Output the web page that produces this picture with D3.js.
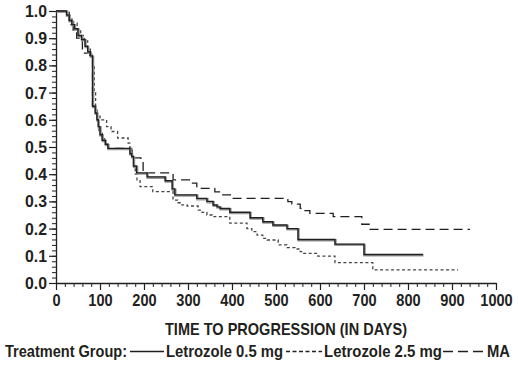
<!DOCTYPE html>
<html><head><meta charset="utf-8">
<script src="https://cdn.jsdelivr.net/npm/d3@7"></script>
<style>
body{margin:0;background:#fff;}
text{font-family:"Liberation Sans Narrow","Liberation Sans",Arial,sans-serif;font-weight:bold;fill:#231f20;}
</style></head><body>
<svg id="c" width="518" height="367"></svg>
<script>
// ---- data ----
const xTicks = [0,100,200,300,400,500,600,700,800,900,1000];
const yTicks = [0,0.1,0.2,0.3,0.4,0.5,0.6,0.7,0.8,0.9,1.0];
const seriesNames = ["Letrozole 0.5 mg","Letrozole 2.5 mg","MA"];
const let05Days = [0,24,30,36,42,50,58,66,72,78,83,89,93,96,100,105,112,118,168,172,176,183,207,248,264,270,320,343,357,366,373,395,441,470,493,525,550,634,700,834];
const let05Surv = [1,.985,.965,.95,.935,.91,.895,.87,.85,.835,.65,.625,.6,.575,.545,.525,.51,.495,.475,.465,.43,.405,.39,.376,.346,.324,.311,.30,.287,.28,.274,.26,.24,.225,.213,.2,.16,.143,.105,.105];
const let25Days = [0,24,32,40,48,56,64,72,78,84,87,90,93,100,115,125,140,164,168,173,177,180,184,191,220,266,277,286,298,323,332,343,355,395,434,445,457,470,480,505,525,543,555,561,595,634,720,914];
const let25Surv = [1,.985,.97,.955,.93,.91,.89,.86,.84,.80,.70,.636,.617,.60,.575,.557,.533,.514,.496,.463,.43,.40,.379,.354,.336,.305,.295,.287,.283,.268,.26,.25,.244,.22,.20,.189,.176,.164,.158,.14,.13,.125,.115,.109,.099,.075,.048,.048];
const maDays = [0,30,39,47,60,77,83,93,98,105,114,118,172,177,193,198,266,305,320,361,373,400,527,536,555,559,577,630,695,714,941];
const maSurv = [1,.95,.93,.90,.845,.826,.65,.60,.56,.53,.51,.495,.477,.46,.452,.405,.379,.367,.348,.335,.324,.311,.299,.29,.274,.266,.256,.244,.216,.197,.197];

// ---- chart ----
const svg = d3.select("#c");
const ink = "#231f20";
const x = d3.scaleLinear().domain([0,1000]).range([56,496]);
const y = d3.scaleLinear().domain([0,1]).range([283,11]);
const charW = 8.1; // approx condensed digit advance

// minor ticks
svg.append("g").attr("transform","translate(0,283)")
  .call(d3.axisBottom(x).tickValues(d3.range(0,1001,20)).tickSize(4).tickFormat(""))
  .call(g=>{g.select(".domain").remove();g.selectAll("line").attr("stroke",ink);});
svg.append("g").attr("transform","translate(56,0)")
  .call(d3.axisLeft(y).tickValues(d3.range(0,51,1).map(d=>d/50)).tickSize(4).tickFormat(""))
  .call(g=>{g.select(".domain").remove();g.selectAll("line").attr("stroke",ink);});
// major
svg.append("g").attr("transform","translate(0,283)")
  .call(d3.axisBottom(x).tickValues(xTicks).tickSize(7).tickSizeOuter(0).tickPadding(4).tickFormat(d3.format("d")))
  .call(g=>{g.select(".domain").attr("stroke",ink).attr("stroke-width",1.3);
    g.selectAll("line").attr("stroke",ink).attr("stroke-width",1.2);
    g.selectAll("text").attr("font-size",17).attr("fill",ink).attr("font-family",null)
      .attr("textLength",function(){return this.textContent.length*charW;}).attr("lengthAdjust","spacingAndGlyphs");});
svg.append("g").attr("transform","translate(56,0)")
  .call(d3.axisLeft(y).tickValues(yTicks).tickSize(7).tickSizeOuter(0).tickPadding(2).tickFormat(d3.format(".1f")))
  .call(g=>{g.select(".domain").attr("stroke",ink).attr("stroke-width",1.3);
    g.selectAll("line").attr("stroke",ink).attr("stroke-width",1.2);
    g.selectAll("text").attr("font-size",17).attr("fill",ink).attr("font-family",null)
      .attr("textLength",22).attr("lengthAdjust","spacingAndGlyphs");});

const line = d3.line().x(d=>x(d[0])).y(d=>y(d[1])).curve(d3.curveStepAfter);
const zip = (a,b)=>a.map((v,i)=>[v,b[i]]);
const g = svg.append("g").attr("fill","none");
g.append("path").attr("d",line(zip(maDays,maSurv))).attr("stroke",ink).attr("stroke-width",1.3).attr("stroke-dasharray","9,5");
g.append("path").attr("d",line(zip(let25Days,let25Surv))).attr("stroke","#444").attr("stroke-width",1.3).attr("stroke-dasharray","3,2.5");
g.append("path").attr("d",line(zip(let05Days,let05Surv))).attr("stroke","#999").attr("stroke-width",2.4).attr("transform","translate(0.6,0.8)");
g.append("path").attr("d",line(zip(let05Days,let05Surv))).attr("stroke",ink).attr("stroke-width",1.4);

function txt(xp,yp,s,w,size){
  return svg.append("text").attr("x",xp).attr("y",yp).attr("font-size",size)
    .attr("textLength",w).attr("lengthAdjust","spacingAndGlyphs").text(s);
}
// axis title
txt(165,335,"TIME TO PROGRESSION (IN DAYS)",242,17);

// legend
const ly = 357, lly = 351.5;
txt(5,ly,"Treatment Group:",122,17);
svg.append("line").attr("x1",130).attr("x2",164).attr("y1",lly).attr("y2",lly).attr("stroke",ink).attr("stroke-width",1.3);
txt(166,ly,seriesNames[0],117,17);
svg.append("line").attr("x1",286).attr("x2",322).attr("y1",lly).attr("y2",lly).attr("stroke",ink).attr("stroke-width",1.3).attr("stroke-dasharray","4,2.5");
txt(324,ly,seriesNames[1],118,17);
svg.append("line").attr("x1",443).attr("x2",485).attr("y1",lly).attr("y2",lly).attr("stroke",ink).attr("stroke-width",1.3).attr("stroke-dasharray","10,5");
txt(487,ly,seriesNames[2],23,17);
</script></body></html>
